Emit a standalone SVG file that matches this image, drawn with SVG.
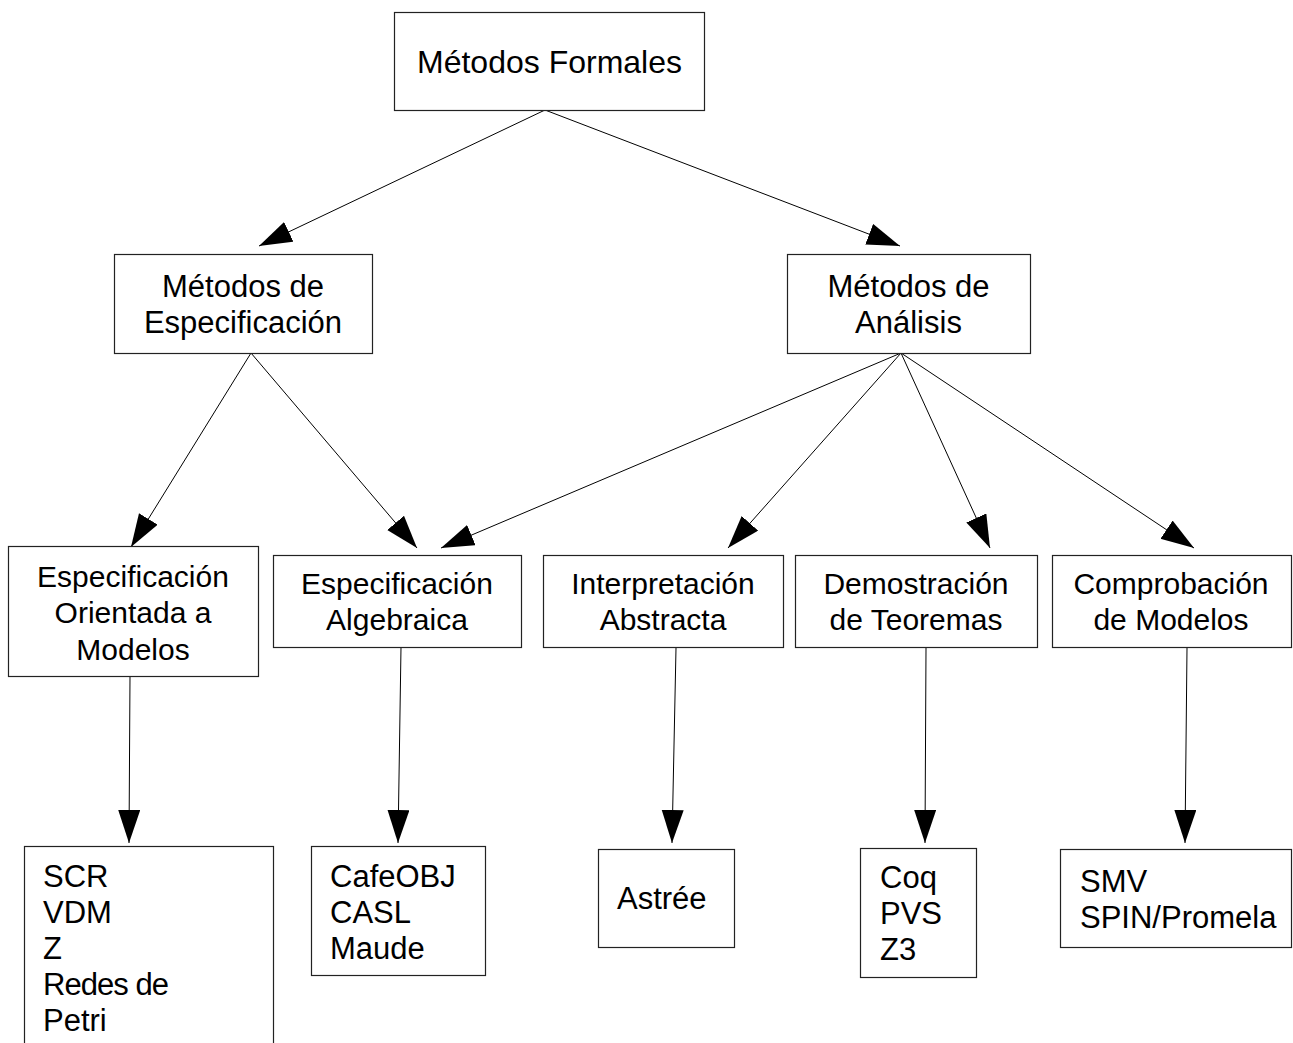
<svg xmlns="http://www.w3.org/2000/svg" width="1293" height="1043" viewBox="0 0 1293 1043">
<style>
  .box { fill: #fff; stroke: #222; stroke-width: 1.2; }
  .conn { stroke: #000; stroke-width: 1; fill: none; marker-end: url(#arr); }
  text { font-family: "Liberation Sans", Arial, sans-serif; fill: #000; }
  .t32 { font-size: 32px; }
  .t31 { font-size: 31px; }
  .t30 { font-size: 30px; }
  .c { text-anchor: middle; }
</style>
<defs>
  <marker id="arr" markerUnits="userSpaceOnUse" markerWidth="34" markerHeight="24" refX="33" refY="11" orient="auto">
    <path d="M0,0 L33,11 L0,22 z" fill="#000"/>
  </marker>
</defs>
<rect width="1293" height="1043" fill="#fff"/>

<g id="connectors">
  <line class="conn" x1="545" y1="110" x2="259" y2="246"/>
  <line class="conn" x1="545" y1="110" x2="900" y2="246"/>
  <line class="conn" x1="251" y1="353" x2="131" y2="547"/>
  <line class="conn" x1="251" y1="353" x2="417" y2="548"/>
  <line class="conn" x1="901" y1="353" x2="441" y2="548"/>
  <line class="conn" x1="901" y1="353" x2="728" y2="548"/>
  <line class="conn" x1="901" y1="353" x2="990" y2="548"/>
  <line class="conn" x1="901" y1="353" x2="1194" y2="548"/>
  <line class="conn" x1="130" y1="676" x2="129" y2="843"/>
  <line class="conn" x1="401" y1="647" x2="398" y2="843"/>
  <line class="conn" x1="676" y1="648" x2="672" y2="843"/>
  <line class="conn" x1="926" y1="648" x2="925" y2="843"/>
  <line class="conn" x1="1187" y1="648" x2="1185" y2="843"/>
</g>

<g id="metodos-formales">
  <rect class="box" x="394.5" y="12.5" width="310" height="98"/>
  <text class="t32 c" x="549.5" y="73">Métodos Formales</text>
</g>

<g id="metodos-especificacion">
  <rect class="box" x="114.5" y="254.5" width="258" height="99"/>
  <text class="t31 c" x="243" y="297">Métodos de</text>
  <text class="t31 c" x="243" y="333">Especificación</text>
</g>

<g id="metodos-analisis">
  <rect class="box" x="787.5" y="254.5" width="243" height="99"/>
  <text class="t31 c" x="908.5" y="297">Métodos de</text>
  <text class="t31 c" x="908.5" y="333">Análisis</text>
</g>

<g id="espec-orientada">
  <rect class="box" x="8.5" y="546.5" width="250" height="130"/>
  <text class="t30 c" x="133" y="587">Especificación</text>
  <text class="t30 c" x="133" y="623">Orientada a</text>
  <text class="t30 c" x="133" y="660">Modelos</text>
</g>

<g id="espec-algebraica">
  <rect class="box" x="273.5" y="555.5" width="248" height="92"/>
  <text class="t30 c" x="397" y="594">Especificación</text>
  <text class="t30 c" x="397" y="630">Algebraica</text>
</g>

<g id="interpretacion-abstracta">
  <rect class="box" x="543.5" y="555.5" width="240" height="92"/>
  <text class="t30 c" x="663" y="594">Interpretación</text>
  <text class="t30 c" x="663" y="630">Abstracta</text>
</g>

<g id="demostracion-teoremas">
  <rect class="box" x="795.5" y="555.5" width="242" height="92"/>
  <text class="t30 c" x="916" y="594">Demostración</text>
  <text class="t30 c" x="916" y="630">de Teoremas</text>
</g>

<g id="comprobacion-modelos">
  <rect class="box" x="1052.5" y="555.5" width="239" height="92"/>
  <text class="t30 c" x="1171" y="594">Comprobación</text>
  <text class="t30 c" x="1171" y="630">de Modelos</text>
</g>

<g id="herramientas-orientada">
  <rect class="box" x="24.5" y="846.5" width="249" height="220"/>
  <text class="t31" x="43" y="887">SCR</text>
  <text class="t31" x="43" y="923">VDM</text>
  <text class="t31" x="43" y="959">Z</text>
  <text class="t31" x="43" y="995" textLength="126" lengthAdjust="spacing">Redes de</text>
  <text class="t31" x="43" y="1031">Petri</text>
</g>

<g id="herramientas-algebraica">
  <rect class="box" x="311.5" y="846.5" width="174" height="129"/>
  <text class="t31" x="330" y="887">CafeOBJ</text>
  <text class="t31" x="330" y="923">CASL</text>
  <text class="t31" x="330" y="959">Maude</text>
</g>

<g id="herramientas-interpretacion">
  <rect class="box" x="598.5" y="849.5" width="136" height="98"/>
  <text class="t31" x="617" y="909">Astrée</text>
</g>

<g id="herramientas-demostracion">
  <rect class="box" x="860.5" y="848.5" width="116" height="129"/>
  <text class="t31" x="880" y="888">Coq</text>
  <text class="t31" x="880" y="924">PVS</text>
  <text class="t31" x="880" y="960">Z3</text>
</g>

<g id="herramientas-comprobacion">
  <rect class="box" x="1060.5" y="849.5" width="231" height="98"/>
  <text class="t31" x="1080" y="892">SMV</text>
  <text class="t31" x="1080" y="928">SPIN/Promela</text>
</g>
</svg>
